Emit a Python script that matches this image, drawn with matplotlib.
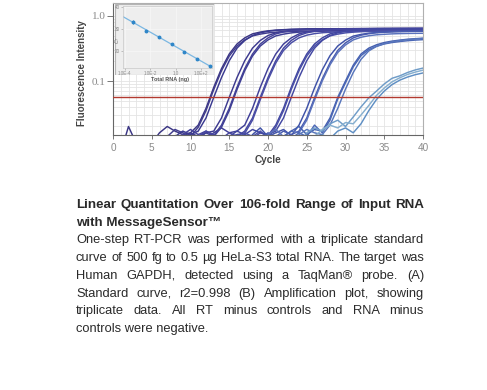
import matplotlib
matplotlib.use("Agg")
import matplotlib.pyplot as plt
from matplotlib.ticker import FixedLocator, MultipleLocator, LogLocator, NullFormatter, FixedFormatter
from matplotlib.patches import Rectangle
import numpy as np

W, H = 487, 390

# ---------------- data ----------------
cycles = list(range(41))

# amplification curves: (start cycle, values) per replicate
g1_start = [1, 0, 0]
g1_vals = [
    [0.008, 0.020, 0.011, 0.010, 0.011, 0.016, 0.020, 0.017, 0.015, 0.016, 0.021, 0.038, 0.080, 0.155, 0.26, 0.37, 0.46,
     0.53, 0.565, 0.59, 0.605, 0.615, 0.622, 0.627, 0.63, 0.632, 0.633, 0.634, 0.635, 0.636, 0.637, 0.638, 0.638,
     0.639, 0.64, 0.64, 0.64, 0.64, 0.64, 0.64],
    [0.010, 0.010, 0.010, 0.010, 0.010, 0.010, 0.012, 0.014, 0.018, 0.016, 0.014, 0.0195, 0.035, 0.074, 0.144, 0.242,
     0.344, 0.428, 0.493, 0.525, 0.549, 0.563, 0.572, 0.578, 0.583, 0.586, 0.588, 0.59, 0.592, 0.594, 0.595, 0.596,
     0.597, 0.598, 0.599, 0.6, 0.6, 0.6, 0.6, 0.6, 0.6],
    [0.010, 0.010, 0.010, 0.010, 0.010, 0.010, 0.010, 0.010, 0.014, 0.017, 0.015, 0.017, 0.027, 0.056, 0.113, 0.205,
     0.32, 0.42, 0.50, 0.55, 0.58, 0.60, 0.61, 0.62, 0.625, 0.63, 0.632, 0.633, 0.634, 0.635, 0.636, 0.637, 0.638,
     0.639, 0.64, 0.64, 0.64, 0.64, 0.64, 0.64, 0.64],
]
g2_start = [8, 7, 10]
g2_vals = [
    [0.010, 0.013, 0.016, 0.014, 0.016, 0.017, 0.027, 0.056, 0.113, 0.205, 0.32, 0.42, 0.50, 0.55, 0.58, 0.60, 0.61,
     0.62, 0.625, 0.63, 0.632, 0.633, 0.634, 0.635, 0.636, 0.637, 0.638, 0.639, 0.64, 0.64, 0.64, 0.64, 0.64],
    [0.010, 0.012, 0.015, 0.018, 0.015, 0.017, 0.0145, 0.021, 0.038, 0.08, 0.155, 0.26, 0.37, 0.46, 0.53, 0.565, 0.59,
     0.605, 0.615, 0.622, 0.627, 0.63, 0.632, 0.633, 0.634, 0.635, 0.636, 0.637, 0.638, 0.639, 0.64, 0.64, 0.64, 0.64],
    [0.010, 0.013, 0.016, 0.014, 0.0195, 0.035, 0.074, 0.144, 0.242, 0.344, 0.428, 0.493, 0.525, 0.549, 0.563, 0.572,
     0.578, 0.583, 0.586, 0.588, 0.59, 0.592, 0.594, 0.595, 0.596, 0.597, 0.598, 0.599, 0.6, 0.6, 0.6],
]
g3_start = [11, 10, 13]
g3_vals = [
    [0.010, 0.013, 0.016, 0.019, 0.016, 0.017, 0.021, 0.038, 0.08, 0.155, 0.26, 0.37, 0.46, 0.53, 0.565, 0.59, 0.605,
     0.615, 0.622, 0.627, 0.63, 0.632, 0.633, 0.634, 0.635, 0.636, 0.637, 0.638, 0.639, 0.64],
    [0.010, 0.014, 0.017, 0.015, 0.013, 0.016, 0.014, 0.017, 0.027, 0.056, 0.113, 0.205, 0.32, 0.42, 0.50, 0.55, 0.58,
     0.60, 0.61, 0.62, 0.625, 0.63, 0.632, 0.633, 0.634, 0.635, 0.636, 0.637, 0.638, 0.639, 0.64],
    [0.010, 0.012, 0.014, 0.015, 0.0157, 0.025, 0.0515, 0.104, 0.189, 0.294, 0.386, 0.46, 0.506, 0.534, 0.552, 0.561,
     0.57, 0.575, 0.58, 0.582, 0.583, 0.584, 0.585, 0.586, 0.587, 0.588, 0.589, 0.59],
]
g4_start = [14, 15, 16]
g4_vals = [
    [0.010, 0.014, 0.017, 0.015, 0.018, 0.016, 0.0145, 0.021, 0.038, 0.08, 0.155, 0.26, 0.37, 0.46, 0.53, 0.565, 0.59,
     0.605, 0.615, 0.622, 0.627, 0.63, 0.632, 0.633, 0.634, 0.635, 0.636],
    [0.010, 0.013, 0.016, 0.014, 0.017, 0.0135, 0.0195, 0.035, 0.074, 0.144, 0.242, 0.344, 0.428, 0.493, 0.525, 0.549,
     0.563, 0.572, 0.578, 0.583, 0.586, 0.588, 0.59, 0.592, 0.594, 0.595],
    [0.010, 0.015, 0.013, 0.016, 0.015, 0.017, 0.027, 0.056, 0.113, 0.205, 0.32, 0.42, 0.50, 0.55, 0.58, 0.60, 0.61,
     0.62, 0.625, 0.63, 0.632, 0.633, 0.634, 0.635, 0.636],
]
g5_start = [17, 18, 19]
g5_vals = [
    [0.010, 0.015, 0.019, 0.014, 0.016, 0.018, 0.0145, 0.021, 0.038, 0.078, 0.148, 0.245, 0.345, 0.425, 0.49, 0.52,
     0.543, 0.556, 0.566, 0.572, 0.577, 0.58, 0.582, 0.584],
    [0.010, 0.013, 0.016, 0.014, 0.017, 0.015, 0.017, 0.027, 0.055, 0.108, 0.19, 0.295, 0.385, 0.46, 0.505, 0.533,
     0.552, 0.561, 0.57, 0.575, 0.578, 0.58, 0.582],
    [0.010, 0.015, 0.018, 0.014, 0.017, 0.016, 0.025, 0.051, 0.1, 0.177, 0.274, 0.358, 0.428, 0.47, 0.496, 0.513,
     0.522, 0.53, 0.535, 0.538, 0.54, 0.541],
]
g6_start = [21, 22, 23]
g6_vals = [
    [0.010, 0.014, 0.017, 0.02, 0.015, 0.018, 0.017, 0.027, 0.056, 0.1, 0.175, 0.26, 0.32, 0.36, 0.39, 0.41, 0.425,
     0.438, 0.447, 0.455],
    [0.010, 0.013, 0.016, 0.014, 0.021, 0.016, 0.025, 0.053, 0.094, 0.165, 0.245, 0.303, 0.342, 0.371, 0.39, 0.404,
     0.416, 0.425, 0.432],
    [0.010, 0.015, 0.018, 0.016, 0.015, 0.021, 0.038, 0.075, 0.135, 0.215, 0.29, 0.34, 0.375, 0.4, 0.418, 0.432,
     0.442, 0.45],
]
g7_start = [24, 25, 26]
g7_vals = [
    [0.010, 0.016, 0.019, 0.017, 0.022, 0.025, 0.02, 0.028, 0.04, 0.055, 0.07, 0.09, 0.11, 0.12, 0.135, 0.148, 0.158],
    [0.010, 0.014, 0.018, 0.021, 0.019, 0.023, 0.022, 0.03, 0.042, 0.06, 0.078, 0.097, 0.112, 0.126, 0.137, 0.147],
    [0.010, 0.015, 0.013, 0.017, 0.019, 0.016, 0.022, 0.035, 0.052, 0.07, 0.088, 0.103, 0.115, 0.125, 0.133],
]
threshold = 0.056

groups = [
    (g1_start, g1_vals, ["#3b3684", "#413d8e", "#3a3a90"]),
    (g2_start, g2_vals, ["#3d3a8f", "#45439a", "#3f3f95"]),
    (g3_start, g3_vals, ["#403f98", "#4646a0", "#4a4ea6"]),
    (g4_start, g4_vals, ["#4146a0", "#4a50a8", "#4348a2"]),
    (g5_start, g5_vals, ["#3f52a8", "#4a5cb0", "#5a72bc"]),
    (g6_start, g6_vals, ["#4560b0", "#4c68b6", "#5876bc"]),
    (g7_start, g7_vals, ["#6f9cc8", "#86afcf", "#5f8fc4"]),
]

# inset standard curve
rna_ng = [5e-4, 5e-3, 5e-2, 0.5, 5, 50, 500]
ct_vals = [33.3, 29.2, 26.5, 23.0, 19.7, 16.4, 13.3]
ct_err = [0.8, 0.45, 0.2, 0.2, 0.2, 0.2, 0.2]
inset_xticks = [1e-4, 1e-2, 1, 1e2]
inset_xlabels = ["1.0E-4", "1.0E-2", "1.0", "1.0E+2"]
inset_yticks = [20, 30, 40]

title_lines = ["Linear Quantitation Over 106-fold Range of Input RNA", "with MessageSensor\u2122"]
body_lines = [
    "One-step RT-PCR was performed with a triplicate standard",
    "curve of 500 fg to 0.5 \u00b5g HeLa-S3 total RNA. The target was",
    "Human GAPDH, detected using a TaqMan\u00ae probe. (A)",
    "Standard curve, r2=0.998 (B) Amplification plot, showing",
    "triplicate data. All RT minus controls and RNA minus",
    "controls were negative.",
]

# ---------------- figure ----------------
plt.rcParams["font.family"] = ["Liberation Sans", "DejaVu Sans"]
fig = plt.figure(figsize=(W / 100, H / 100), dpi=100)
fig.patch.set_facecolor("white")


def rect(x0, y0, x1, y1):
    return [x0 / W, 1 - y1 / H, (x1 - x0) / W, (y1 - y0) / H]


ax = fig.add_axes(rect(113, 3, 423, 135))
ax.set_yscale("log")
ax.set_xlim(0, 40)
ax.set_ylim(0.0148, 1.58)

for starts, vals, cols in groups:
    for s, v, c in zip(starts, vals, cols):
        ax.plot(cycles[s:s + len(v)], v, color=c, lw=1.05, solid_joinstyle="round")

ax.axhline(threshold, color="#b23a30", lw=1.0, zorder=3)

ax.xaxis.set_major_locator(MultipleLocator(5))
ax.xaxis.set_minor_locator(MultipleLocator(1))
ax.yaxis.set_major_locator(FixedLocator([0.1, 1.0]))
ax.yaxis.set_major_formatter(FixedFormatter(["0.1", "1.0"]))
ax.yaxis.set_minor_locator(LogLocator(base=10, subs=np.arange(2, 10)))
ax.yaxis.set_minor_formatter(NullFormatter())
ax.set_axisbelow(True)
ax.grid(True, which="both", color="#e4e4e4", lw=0.6)
ax.tick_params(which="minor", length=0)
ax.tick_params(axis="x", which="major", length=3.2, width=0.7, color="#777", pad=2.5,
               labelsize=7.2, labelcolor="#8a8a8a")
ax.tick_params(axis="y", which="major", length=4.5, width=0.7, color="#777", pad=1,
               labelsize=8, labelcolor="#8a8a8a")
for lab in ax.get_yticklabels():
    lab.set_family("Liberation Serif")
for side in ["left", "bottom"]:
    ax.spines[side].set_color("#666")
    ax.spines[side].set_linewidth(0.8)
for side in ["top", "right"]:
    ax.spines[side].set_color("#b0b0b0")
    ax.spines[side].set_linewidth(0.8)

ax.set_xlabel("Cycle", fontsize=7.2, fontweight="bold", color="#444")
ax.xaxis.set_label_coords(0.5, -0.155)
ax.set_ylabel("Fluorescence Intensity", fontsize=7.0, fontweight="bold", color="#444")
ax.yaxis.set_label_coords(-0.085, 0.47)

# inset panel
pax = fig.add_axes(rect(115, 4, 214, 75))
pax.set_axis_off()
pax.add_patch(Rectangle((0, 0), 1, 1, transform=pax.transAxes, facecolor="#eeeeee",
                        edgecolor="#b5b5b5", lw=0.8))

iax = fig.add_axes(rect(123, 6, 212, 68))
iax.set_facecolor("#eeeeee")
iax.set_xscale("log")
iax.set_xlim(10 ** -4.12, 10 ** 2.86)
iax.set_ylim(12.3, 40.5)
lx = np.log10(rna_ng)
coef = np.polyfit(lx, ct_vals, 1)
fit_x = np.array([-4.12, 2.86])
iax.plot(10 ** fit_x, np.polyval(coef, fit_x), color="#7bb7e2", lw=0.9, zorder=2)
iax.errorbar(rna_ng, ct_vals, yerr=ct_err, fmt="o", ms=1.8, color="#2f86c8", ecolor="#2f86c8",
             elinewidth=0.6, capsize=0, zorder=3)
iax.xaxis.set_major_locator(FixedLocator(inset_xticks))
iax.xaxis.set_major_formatter(FixedFormatter(inset_xlabels))
iax.xaxis.set_minor_locator(FixedLocator([]))
iax.yaxis.set_major_locator(FixedLocator(inset_yticks))
iax.set_axisbelow(True)
iax.grid(True, color="#f8f8f8", lw=0.5)
iax.tick_params(length=1.2, width=0.4, color="#999", pad=1, labelsize=3.3, labelcolor="#888")
for sp in iax.spines.values():
    sp.set_color("#c8c8c8")
    sp.set_linewidth(0.5)
fig.text(170 / W, 1 - 80 / H, "Total RNA (ng)", fontsize=4, fontweight="bold", color="#555",
         ha="center", va="center")
fig.text(117.5 / W, 1 - 40 / H, "$C_T$", fontsize=4, color="#777", rotation=90, ha="center", va="center")

# caption with justified lines
renderer = fig.canvas.get_renderer()
X0, X1 = 76, 424


def put_line(text, y_px, justify, **kw):
    words = text.split(" ")
    if not justify:
        fig.text(X0 / W, 1 - y_px / H, text, ha="left", va="baseline", **kw)
        return
    objs = [fig.text(0, 0, w, ha="left", va="baseline", **kw) for w in words]
    widths = [o.get_window_extent(renderer).width for o in objs]
    gap = (X1 - X0 - sum(widths)) / (len(words) - 1)
    x = X0
    for o, w in zip(objs, widths):
        o.set_position((x / W, 1 - y_px / H))
        x += w + gap


title_y = [208.3, 225.5]
body_y = [243.3, 261, 279, 296.7, 314.3, 331.7]
for i, (t, y) in enumerate(zip(title_lines, title_y)):
    put_line(t, y, i == 0, fontsize=9.6, fontweight="bold", color="#2a2a2a")
for i, (t, y) in enumerate(zip(body_lines, body_y)):
    put_line(t, y, i < len(body_lines) - 1, fontsize=9.3, color="#2a2a2a")

fig.savefig("out.png", dpi=100)
